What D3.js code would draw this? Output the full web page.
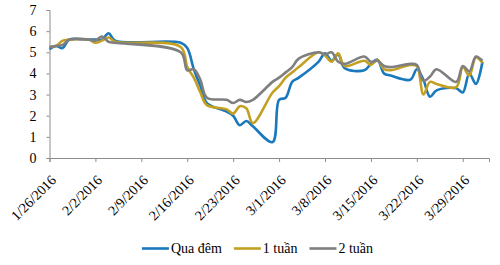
<!DOCTYPE html>
<html>
<head>
<meta charset="utf-8">
<script src="https://cdn.jsdelivr.net/npm/d3@7"></script>
<style>
  body { margin: 0; background: #fff; }
  svg { display: block; }
  text { font-family: "Liberation Serif", "Times New Roman", serif; fill: #000; }
</style>
</head>
<body>
<svg id="chart" width="500" height="265"></svg>
<script>
// trading days (Tet holiday 2/6 - 2/14 has no data)
const dates = [
  "1/26/2016","1/27/2016","1/28/2016","1/29/2016",
  "2/1/2016","2/2/2016","2/3/2016","2/4/2016","2/5/2016",
  "2/15/2016","2/16/2016","2/17/2016","2/18/2016","2/19/2016",
  "2/22/2016","2/23/2016","2/24/2016","2/25/2016","2/26/2016",
  "2/29/2016","3/1/2016","3/2/2016","3/3/2016","3/4/2016",
  "3/7/2016","3/8/2016","3/9/2016","3/10/2016","3/11/2016",
  "3/14/2016","3/15/2016","3/16/2016","3/17/2016","3/18/2016",
  "3/21/2016","3/22/2016","3/23/2016","3/24/2016","3/25/2016",
  "3/28/2016","3/29/2016","3/30/2016","3/31/2016","4/1/2016"
];

const quaDem = [
  5.15, 5.3, 5.2, 5.6,
  5.6, 5.6, 5.6, 5.9, 5.55,
  5.45, 5.2, 4.2, 3.4, 2.6,
  2.2, 2.0, 1.55, 1.75, 1.5,
  0.75, 2.75, 2.85, 3.6, 3.8,
  4.55, 4.95, 4.6, 4.9, 4.25,
  4.15, 4.45, 4.65, 4.0, 3.9,
  3.7, 4.2, 3.7, 2.9, 3.2,
  3.3, 3.1, 4.0, 3.5, 4.55
];

const motTuan = [
  5.25, 5.3, 5.55, 5.6,
  5.6, 5.45, 5.55, 5.7, 5.5,
  5.25, 4.3, 3.8, 3.1, 2.5,
  2.3, 2.1, 2.45, 2.35, 1.65,
  3.1, 3.4, 3.8, 4.05, 4.3,
  5.0, 4.85, 4.55, 4.95, 4.35,
  4.6, 4.4, 4.65, 4.2, 4.15,
  4.4, 4.35, 3.0, 3.6, 3.5,
  3.35, 4.3, 3.9, 4.75, 4.5
];

const haiTuan = [
  5.25, 5.3, 5.35, 5.6,
  5.6, 5.55, 5.75, 5.5, 5.45,
  5.0, 4.15, 4.2, 3.7, 2.85,
  2.75, 2.6, 2.75, 2.65, 2.75,
  3.6, 3.8, 4.05, 4.3, 4.7,
  5.0, 4.9, 5.0, 4.55, 4.45,
  4.8, 4.55, 4.6, 4.35, 4.3,
  4.45, 4.4, 3.65, 3.85, 4.2,
  3.6, 4.35, 4.1, 4.8, 4.6
];

const xTickLabels = ["1/26/2016","2/2/2016","2/9/2016","2/16/2016","2/23/2016",
                     "3/1/2016","3/8/2016","3/15/2016","3/22/2016","3/29/2016"];
const yTicks = [0, 1, 2, 3, 4, 5, 6, 7];

const seriesNames = ["Qua đêm", "1 tuần", "2 tuần"];
const seriesColors = ["#1a78bd", "#c4a022", "#7f7f7f"];
const seriesValues = [quaDem, motTuan, haiTuan];

const parseDate = d3.utcParse("%m/%d/%Y");

const svg = d3.select("#chart");
const plotLeft = 49.5, plotRight = 489, plotTop = 10, plotBottom = 158;

const x = d3.scaleUtc()
  .domain([parseDate("1/26/2016"), parseDate("4/2/2016")])
  .range([plotLeft, plotRight]);

const y = d3.scaleLinear()
  .domain([0, 7])
  .range([plotBottom, plotTop]);

// y axis
const yAxis = svg.append("g")
  .attr("transform", `translate(${plotLeft},0)`)
  .call(d3.axisLeft(y).tickValues(yTicks).tickSize(3).tickPadding(10).tickFormat(d3.format("d")));
yAxis.selectAll("text").style("font-size", "14px").style("font-family", '"Liberation Serif", serif');

// x axis, labels turned 45 degrees
const xAxis = svg.append("g")
  .attr("transform", `translate(0,${plotBottom})`)
  .call(d3.axisBottom(x).tickValues(xTickLabels.map(parseDate)).tickSize(4)
    .tickFormat((d, i) => xTickLabels[i]));
xAxis.selectAll("text")
  .style("font-size", "14px")
  .style("font-family", '"Liberation Serif", serif')
  .attr("text-anchor", "end")
  .attr("dy", null)
  .attr("y", 0)
  .attr("transform", "translate(7,23) rotate(-45)");

svg.selectAll(".domain, .tick line").attr("stroke", "#8c8c8c");
svg.selectAll(".tick text").attr("fill", "#000");

// lines
const line = d3.line()
  .x(d => x(d.date))
  .y(d => y(d.value))
  .curve(d3.curveCatmullRom.alpha(0.5));

seriesValues.forEach((vals, s) => {
  const pts = dates.map((d, i) => ({ date: parseDate(d), value: vals[i] }));
  svg.append("path")
    .datum(pts)
    .attr("fill", "none")
    .attr("stroke", seriesColors[s])
    .attr("stroke-width", 2.6)
    .attr("stroke-linejoin", "round")
    .attr("d", line);
});

// legend
const legend = svg.append("g");
let lx = 0;
seriesNames.forEach((name, s) => {
  const g = legend.append("g").attr("transform", `translate(${lx},0)`);
  g.append("line")
    .attr("x1", 0).attr("x2", 27).attr("y1", 0).attr("y2", 0)
    .attr("stroke", seriesColors[s]).attr("stroke-width", 2.6);
  const t = g.append("text")
    .attr("x", 29).attr("y", 4.8)
    .style("font-size", "14px")
    .text(name);
  lx += 29 + t.node().getComputedTextLength() + 12;
});
const legendWidth = lx - 12;
legend.attr("transform", `translate(${257.5 - legendWidth / 2},248.5)`);
</script>
</body>
</html>
